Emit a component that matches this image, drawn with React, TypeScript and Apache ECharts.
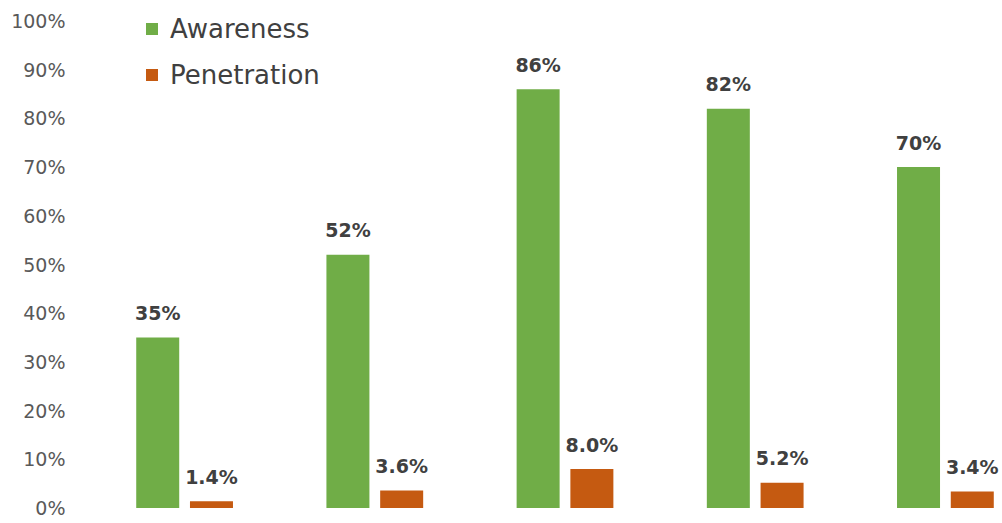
import React, { useEffect, useRef } from "react";
import * as echarts from "echarts";

const categories = ["1", "2", "3", "4", "5"];
const awareness = [35, 52, 86, 82, 70];
const penetration = [1.4, 3.6, 8.0, 5.2, 3.4];
const yTicks = { min: 0, max: 100, interval: 10 };

export default function App() {
  const ref = useRef<HTMLDivElement>(null);
  useEffect(() => {
    if (!ref.current) return;
    const chart = echarts.init(ref.current, null, { renderer: "svg" });
    const labelStyle = {
      show: true,
      position: "top" as const,
      distance: 15,
      fontFamily: "DejaVu Sans",
      fontWeight: "bold" as const,
      fontSize: 19,
      color: "#404040",
    };
    chart.setOption({
      animation: false,
      backgroundColor: "#ffffff",
      textStyle: { fontFamily: "DejaVu Sans" },
      legend: {
        orient: "vertical",
        left: 141,
        top: 11,
        itemWidth: 12,
        itemHeight: 12,
        itemGap: 20,
        icon: "rect",
        textStyle: {
          fontFamily: "DejaVu Sans",
          fontSize: 26,
          color: "#404040",
          padding: [0, 0, 0, 7],
        },
        data: ["Awareness", "Penetration"],
      },
      grid: { left: 89.5, width: 951, top: 21, bottom: 15, containLabel: false },
      xAxis: {
        type: "category",
        data: categories,
        axisLine: { show: false },
        axisTick: { show: false },
        axisLabel: { show: false },
        splitLine: { show: false },
      },
      yAxis: {
        type: "value",
        min: yTicks.min,
        max: yTicks.max,
        interval: yTicks.interval,
        axisLine: { show: false },
        axisTick: { show: false },
        splitLine: { show: false },
        axisLabel: {
          formatter: "{value}%",
          fontFamily: "DejaVu Sans",
          fontSize: 19,
          color: "#595959",
          margin: 24,
        },
      },
      series: [
        {
          name: "Awareness",
          type: "bar",
          data: awareness,
          barWidth: 43,
          barGap: "25%",
          itemStyle: { color: "#70AD47" },
          label: { ...labelStyle, formatter: (p: any) => `${p.value.toFixed(0)}%` },
        },
        {
          name: "Penetration",
          type: "bar",
          data: penetration,
          barWidth: 43,
          barGap: "25%",
          itemStyle: { color: "#C55A11" },
          label: { ...labelStyle, formatter: (p: any) => `${p.value.toFixed(1)}%` },
        },
      ],
    });
    return () => chart.dispose();
  }, []);
  return (
    <div style={{ position: "fixed", left: 0, top: 0, width: 1002, height: 523, overflow: "hidden" }}>
      <div ref={ref} style={{ width: 1050, height: 523 }} />
    </div>
  );
}
